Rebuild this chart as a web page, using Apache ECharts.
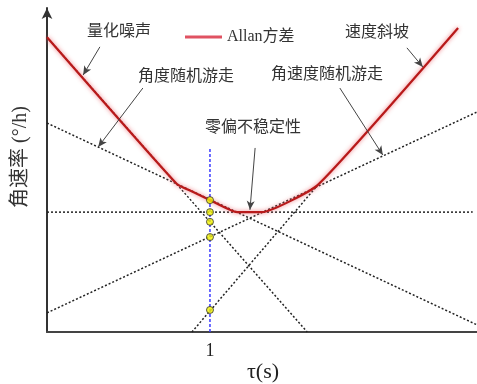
<!DOCTYPE html>
<html>
<head>
<meta charset="utf-8">
<script src="https://cdn.jsdelivr.net/npm/echarts@6/dist/echarts.min.js"></script>
<style>
  html, body { margin: 0; padding: 0; background: #fff; }
  #chart { width: 477px; height: 384px; }
</style>
</head>
<body>
<div id="chart"></div>
<script>
// Schematic Allan deviation plot, log(τ) on x and log(σ) on y (arbitrary units 0..100)
const tauOne = 37.9;            // x position of τ = 1
const xTickLabels = ['1'];

// Allan deviation envelope
const allanCurve = [
  [0, 91.0], [30.2, 45.7], [34.0, 43.2], [37.9, 40.7], [44.2, 37.0],
  [50.0, 37.0], [63.0, 45.4], [95.6, 93.8]
];

// Individual noise terms (straight asymptotes)
const quantNoise   = [[0, 91.0], [60.5, 0]];
const angleWalk    = [[0, 64.5], [100, 2.2]];
const biasInstab   = [[0, 37.0], [99, 37.0]];
const rateWalk     = [[0, 5.9], [100, 67.9]];
const rateRamp     = [[33.7, 0], [63.0, 45.4]];

// Values of each term at τ = 1
const valuesAtOne = [40.7, 37.0, 34.0, 29.3, 6.8];
const refLine = [[tauOne, 0], [tauOne, 56.8]];

// Callout arrows: [from, to]
const callouts = [
  [[12.3, 88.0], [8.4, 79.3]],
  [[22.3, 75.3], [11.9, 57.1]],
  [[48.4, 56.8], [47.2, 37.7]],
  [[68.1, 75.3], [78.1, 54.6]],
  [[83.7, 87.7], [87.4, 81.8]]
];

const cjk = '"Liberation Serif", "Noto Sans CJK SC", serif';

const dotted = (data) => ({
  type: 'line', data, symbol: 'none', silent: true, z: 2,
  lineStyle: { color: '#222', width: 1.5, type: [2, 2] }
});

const chart = echarts.init(document.getElementById('chart'));
chart.setOption({
  animation: false,
  backgroundColor: '#fff',
  grid: { left: 47, right: 0, top: 8, bottom: 52 },
  legend: {
    data: [{ name: 'Allan方差', icon: 'rect' }],
    left: 180, top: 24,
    itemWidth: 37, itemHeight: 3, itemGap: 10,
    textStyle: { fontFamily: cjk, fontSize: 16, color: '#333' }
  },
  xAxis: {
    type: 'value', min: 0, max: 100,
    splitLine: { show: false },
    axisLine: { lineStyle: { color: '#444', width: 2 } },
    axisTick: { show: false },
    axisLabel: {
      customValues: [tauOne],
      formatter: () => xTickLabels[0],
      margin: 10,
      fontFamily: '"Liberation Serif", serif', fontSize: 18, color: '#222'
    }
  },
  yAxis: {
    type: 'value', min: 0, max: 100,
    splitLine: { show: false },
    axisTick: { show: false },
    axisLabel: { show: false },
    axisLine: {
      show: true, symbol: ['none', 'arrow'], symbolSize: [8, 11],
      lineStyle: { color: '#333', width: 2 }
    }
  },
  graphic: [
    { type: 'text', x: 21, y: 157, rotation: Math.PI / 2,
      style: { text: '角速率 (°/h)', font: '20px ' + cjk, fill: '#333',
               align: 'center', verticalAlign: 'middle' } },
    { type: 'text', x: 263, y: 372,
      style: { text: 'τ(s)', font: '22px "Liberation Serif", serif', fill: '#222',
               align: 'center', verticalAlign: 'middle' } },
    { type: 'text', x: 119, y: 32,
      style: { text: '量化噪声', font: '16px ' + cjk, fill: '#333', align: 'center', verticalAlign: 'middle' } },
    { type: 'text', x: 377, y: 33,
      style: { text: '速度斜坡', font: '16px ' + cjk, fill: '#333', align: 'center', verticalAlign: 'middle' } },
    { type: 'text', x: 186, y: 77,
      style: { text: '角度随机游走', font: '16px ' + cjk, fill: '#333', align: 'center', verticalAlign: 'middle' } },
    { type: 'text', x: 327, y: 75,
      style: { text: '角速度随机游走', font: '16px ' + cjk, fill: '#333', align: 'center', verticalAlign: 'middle' } },
    { type: 'text', x: 253, y: 128,
      style: { text: '零偏不稳定性', font: '16px ' + cjk, fill: '#333', align: 'center', verticalAlign: 'middle' } }
  ],
  series: [
    dotted(quantNoise),
    dotted(angleWalk),
    dotted(biasInstab),
    dotted(rateWalk),
    dotted(rateRamp),
    {
      type: 'line', data: refLine, symbol: 'none', silent: true, z: 3,
      lineStyle: { color: '#3a3aff', width: 1.5, type: [3, 2] }
    },
    {
      name: 'Allan方差', type: 'line', data: allanCurve, symbol: 'none', z: 4,
      smooth: 0.15,
      itemStyle: { color: '#e05262' },
      lineStyle: { color: '#b81a1a', width: 2.2,
                   shadowColor: 'rgba(235,90,100,0.85)', shadowBlur: 4 }
    },
    {
      type: 'scatter', z: 6, silent: true,
      data: valuesAtOne.map(v => [tauOne, v]),
      symbol: 'circle', symbolSize: 7,
      itemStyle: { color: '#f2f200', borderColor: '#333', borderWidth: 1 }
    },
    {
      type: 'line', data: [], silent: true, z: 5,
      markLine: {
        silent: true, animation: false,
        symbol: ['none', 'arrow'], symbolSize: [6, 9],
        label: { show: false },
        lineStyle: { color: '#444', width: 1, type: 'solid' },
        data: callouts.map(([a, b]) => [{ coord: a }, { coord: b }])
      }
    }
  ]
});
</script>
</body>
</html>
